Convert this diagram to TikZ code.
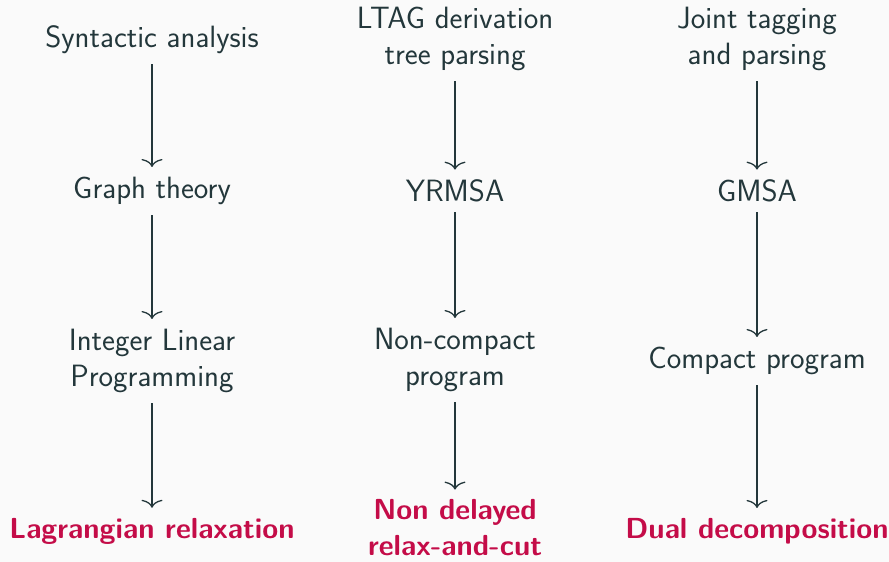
\documentclass[tikz,border=0pt]{standalone}
\usepackage{fontspec}
\usetikzlibrary{arrows.meta}
\definecolor{fg}{HTML}{23373B}
\definecolor{alertc}{RGB}{196,12,72}
\definecolor{bgc}{HTML}{FAFAFA}
\begin{document}
\begin{tikzpicture}[x=1pt,y=-1pt,
  txt/.style={align=center,inner sep=0pt,text=fg,font=\sffamily\fontsize{30.8}{36}\selectfont},
  res/.style={txt,text=alertc,font=\sffamily\bfseries\fontsize{29}{36}\selectfont},
  conn/.style={draw=fg,line width=1.3pt,-{To[length=8pt,width=21pt]},shorten <=10pt,shorten >=10pt}]
\fill[bgc] (0,0) rectangle (889,562);
\useasboundingbox (0,0) rectangle (889,562);
% column 1
\node[txt] (a1) at (152,40) {Syntactic analysis};
\node[txt] (a2) at (152,191) {Graph theory};
\node[txt] (a3) at (152,361) {Integer Linear\\Programming};
\node[res] (a4) at (152,531) {Lagrangian relaxation};
% column 2
\node[txt] (b1) at (455,39) {LTAG derivation\\tree parsing};
\node[txt] (b2) at (455,191) {YRMSA};
\node[txt] (b3) at (455,360) {Non-compact\\program};
\node[res] (b4) at (455,528) {Non delayed\\relax-and-cut};
% column 3
\node[txt] (c1) at (757,39) {Joint tagging\\and parsing};
\node[txt] (c2) at (757,191) {GMSA};
\node[txt] (c3) at (757,361) {Compact program};
\node[res] (c4) at (757,531) {Dual decomposition};
\draw[conn] (a1) -- (a2);
\draw[conn] (a2) -- (a3);
\draw[conn] (a3) -- (a4);
\draw[conn] (b1) -- (b2);
\draw[conn] (b2) -- (b3);
\draw[conn] (b3) -- (b4);
\draw[conn] (c1) -- (c2);
\draw[conn] (c2) -- (c3);
\draw[conn] (c3) -- (c4);
\end{tikzpicture}
\end{document}
